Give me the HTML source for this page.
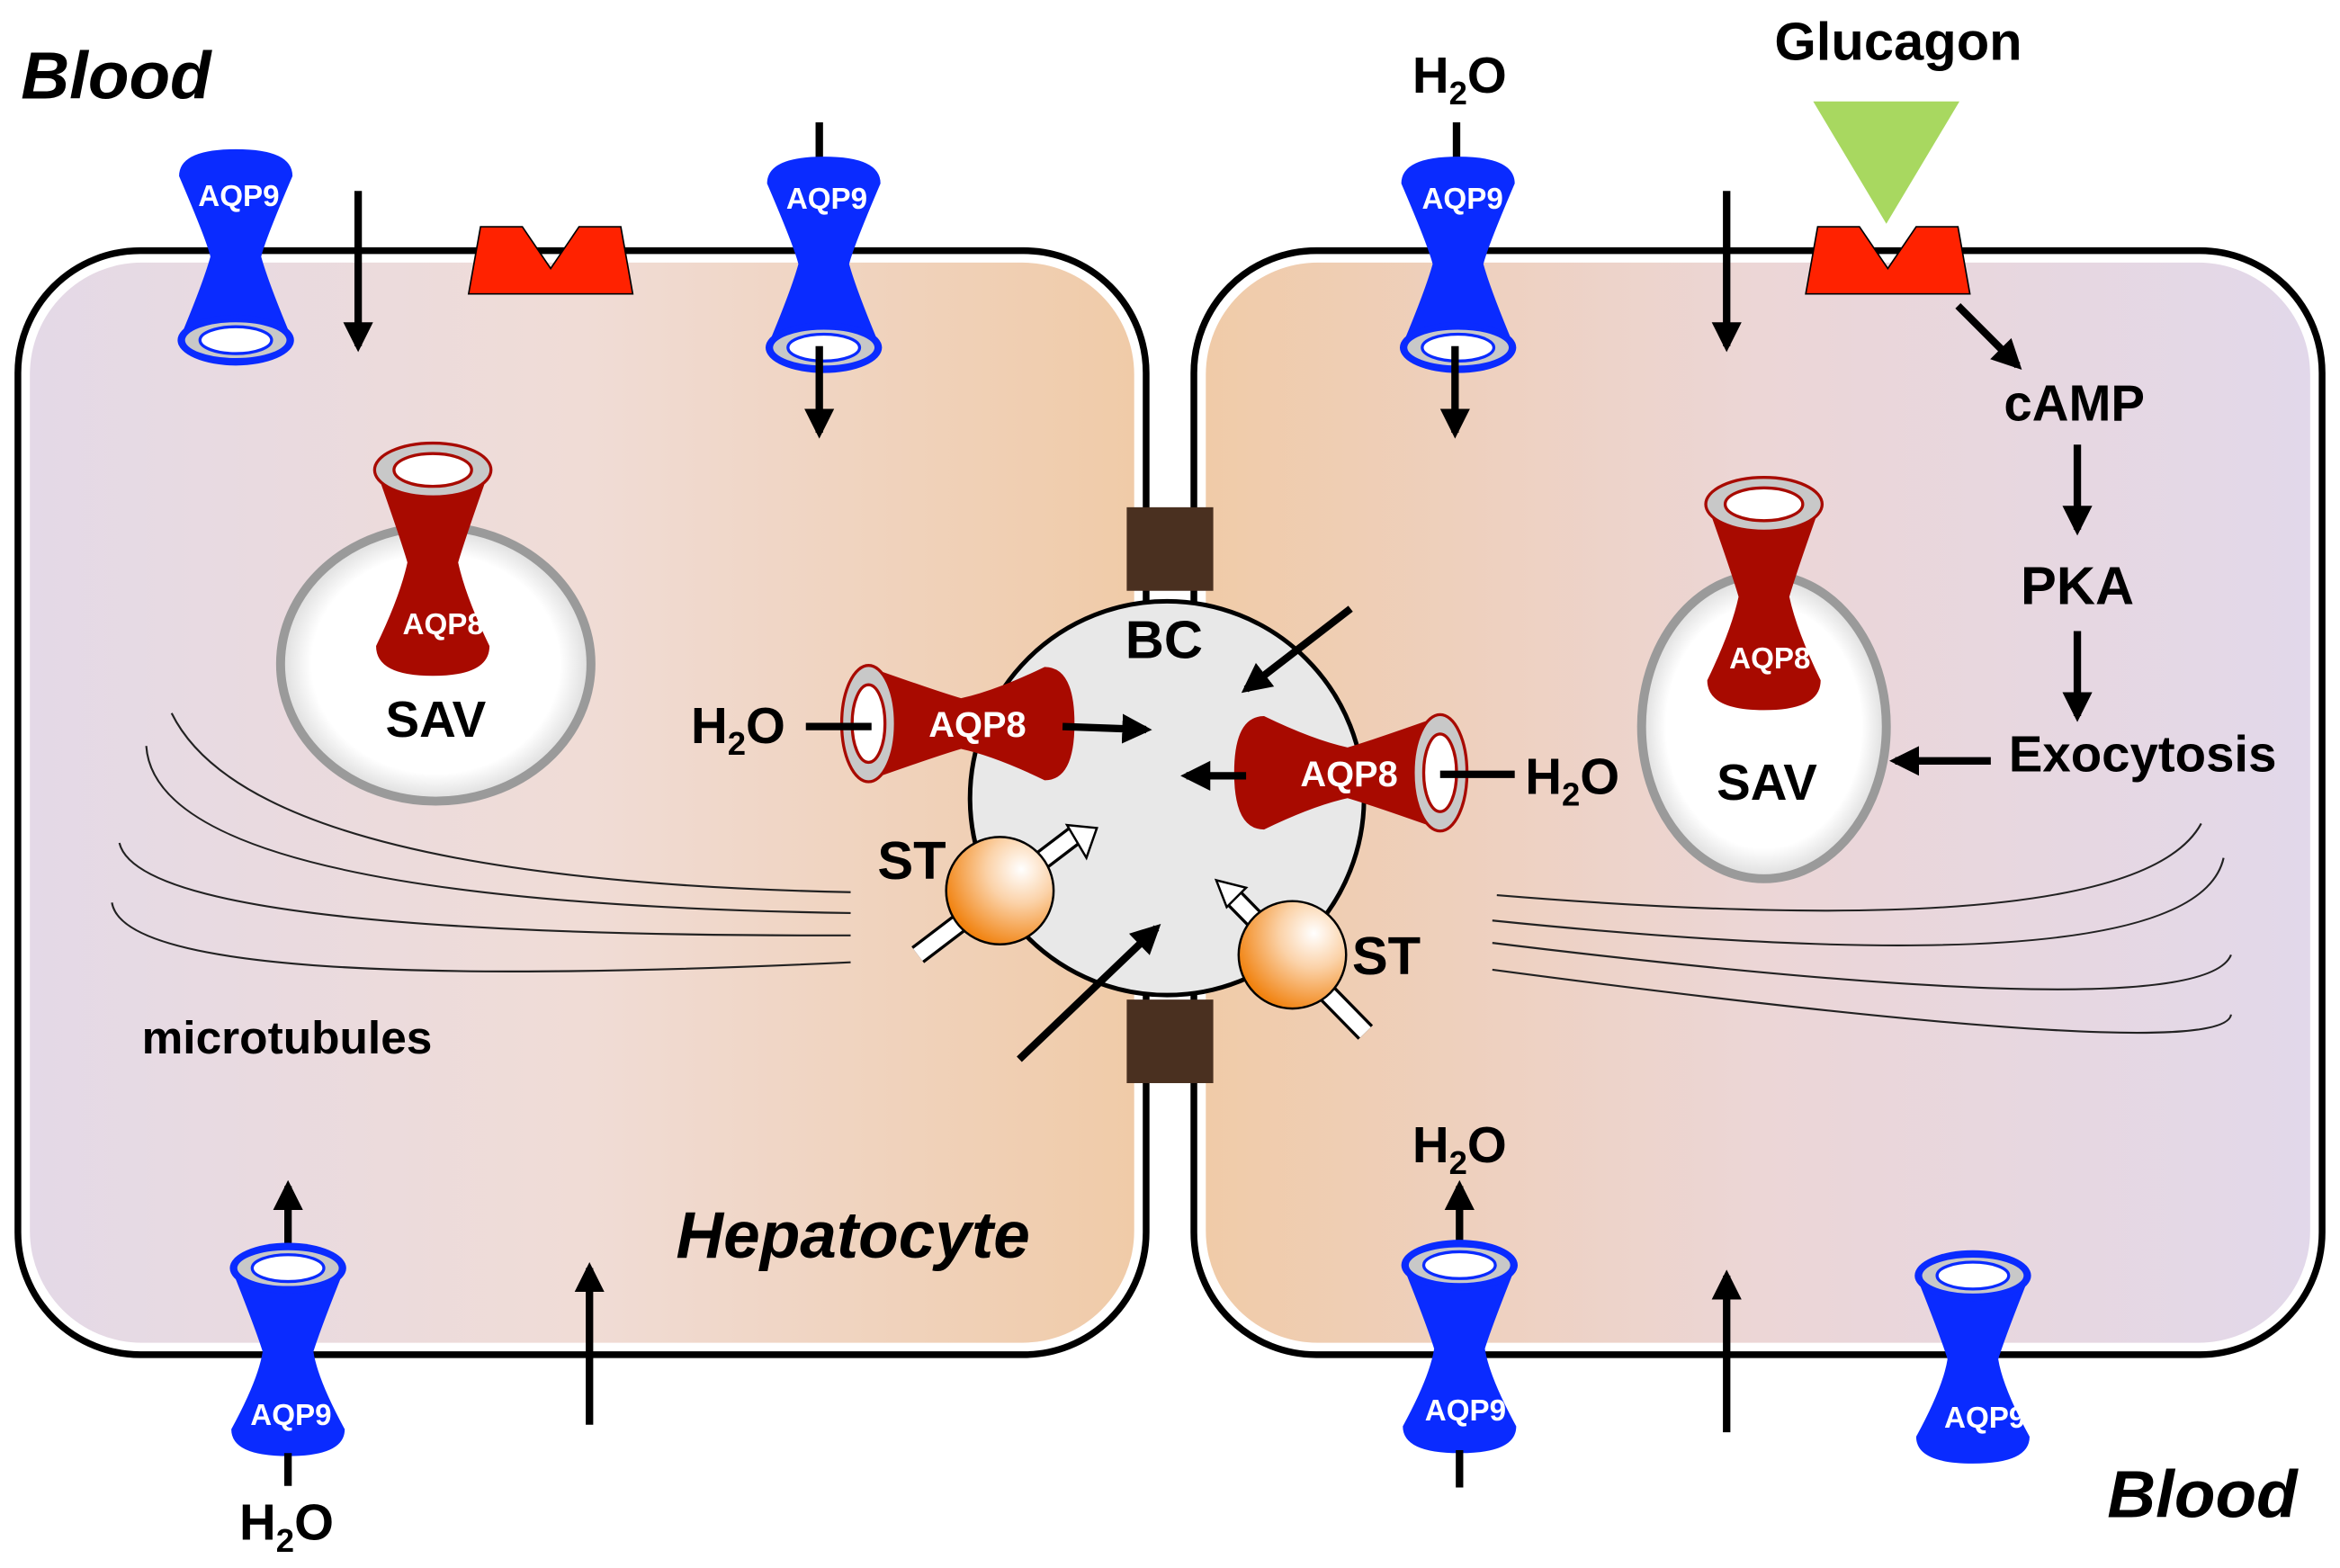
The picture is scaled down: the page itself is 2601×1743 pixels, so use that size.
<!DOCTYPE html>
<html><head><meta charset="utf-8"><style>
html,body{margin:0;padding:0;background:#fff;}
svg{display:block;}
text{font-family:"Liberation Sans",sans-serif;font-weight:bold;}
</style></head><body>
<svg width="2601" height="1743" viewBox="0 0 1568 1051" preserveAspectRatio="none" xmlns="http://www.w3.org/2000/svg">
<defs>
<linearGradient id="gl" x1="0" x2="1" y1="0" y2="0"><stop offset="0" stop-color="#e4d9e7"/><stop offset="0.5" stop-color="#f0dcd6"/><stop offset="1" stop-color="#f0cba8"/></linearGradient>
<linearGradient id="gr" x1="0" x2="1" y1="0" y2="0"><stop offset="0" stop-color="#f0cba8"/><stop offset="0.5" stop-color="#ecd6d6"/><stop offset="1" stop-color="#e2d8ea"/></linearGradient>
<radialGradient id="orb" cx="0.7" cy="0.3" r="0.8"><stop offset="0" stop-color="#fff"/><stop offset="0.4" stop-color="#fbd2a8"/><stop offset="1" stop-color="#f07a00"/></radialGradient>
<radialGradient id="sav" cx="0.5" cy="0.5" r="0.5"><stop offset="0.8" stop-color="#fff"/><stop offset="1" stop-color="#dcdcdc"/></radialGradient>
<marker id="ah" viewBox="0 0 10 10" refX="8" refY="5" markerWidth="4" markerHeight="4.5" orient="auto"><path d="M0,0 L10,5 L0,10 Z" fill="#000"/></marker>
<g id="aq9d">
 <path d="M-38,18 Q-38,0 0,0 Q38,0 38,18 Q20,60 17,72 Q22,90 38,128 L-38,128 Q-22,90 -17,72 Q-20,60 -38,18 Z" fill="#0a2bff"/>
 <ellipse cx="0" cy="128" rx="39" ry="17" fill="#0a2bff"/>
 <ellipse cx="0" cy="128" rx="35" ry="13" fill="#c8c8c8" stroke="#0a2bff" stroke-width="2"/>
 <ellipse cx="0" cy="128" rx="24" ry="9" fill="#fff" stroke="#0a2bff" stroke-width="2"/>
</g>
<g id="aq9u">
 <path d="M-38,0 L38,0 Q22,40 17,56 Q20,75 38,108 Q38,126 0,126 Q-38,126 -38,108 Q-20,75 -17,56 Q-22,40 -38,0 Z" fill="#0a2bff"/>
 <ellipse cx="0" cy="0" rx="39" ry="17" fill="#0a2bff"/>
 <ellipse cx="0" cy="0" rx="35" ry="13" fill="#c8c8c8" stroke="#0a2bff" stroke-width="2"/>
 <ellipse cx="0" cy="0" rx="24" ry="9" fill="#fff" stroke="#0a2bff" stroke-width="2"/>
</g>
<g id="aq8">
 <path d="M-38,0 L38,0 Q22,45 17,62 Q22,85 38,118 Q38,138 0,138 Q-38,138 -38,118 Q-22,85 -17,62 Q-22,45 -38,0 Z" fill="#a80a00"/>
 <ellipse cx="0" cy="0" rx="39" ry="18" fill="#c8c8c8" stroke="#a80a00" stroke-width="2"/>
 <ellipse cx="0" cy="0" rx="26" ry="11" fill="#fff" stroke="#a80a00" stroke-width="2"/>
</g>
</defs>

<rect x="12" y="168" width="756" height="740" rx="82" fill="#fff" stroke="#000" stroke-width="4.5"/>
<rect x="20" y="176" width="740" height="724" rx="75" fill="url(#gl)"/>
<rect x="800" y="168" width="756" height="740" rx="82" fill="#fff" stroke="#000" stroke-width="4.5"/>
<rect x="808" y="176" width="740" height="724" rx="75" fill="url(#gr)"/>

<rect x="755" y="340" width="58" height="56" fill="#4a3020"/>
<rect x="755" y="670" width="58" height="56" fill="#4a3020"/>

<g fill="none" stroke="#222" stroke-width="1.3">
<path d="M115,478 Q170,590 570,598"/>
<path d="M98,500 Q105,605 570,612"/>
<path d="M80,565 Q95,628 570,627"/>
<path d="M75,605 Q85,668 570,645"/>
<path d="M1475,552 Q1430,635 1003,600"/>
<path d="M1490,575 Q1470,665 1000,617"/>
<path d="M1495,640 Q1475,690 1000,632"/>
<path d="M1495,680 Q1490,715 1000,650"/>
</g>

<circle cx="782" cy="535" r="132" fill="#e8e8e8" stroke="#000" stroke-width="3"/>
<text x="780" y="441" font-size="36" text-anchor="middle">BC</text>

<ellipse cx="292" cy="445" rx="104" ry="92" fill="url(#sav)" stroke="#9a9a9a" stroke-width="6"/>
<use href="#aq8" transform="translate(290,315)"/>
<text x="297" y="425" font-size="20" fill="#fff" text-anchor="middle">AQP8</text>
<text x="292" y="494" font-size="34" text-anchor="middle">SAV</text>
<ellipse cx="1182" cy="487" rx="82" ry="102" fill="url(#sav)" stroke="#9a9a9a" stroke-width="6"/>
<use href="#aq8" transform="translate(1182,338)"/>
<text x="1186" y="448" font-size="20" fill="#fff" text-anchor="middle">AQP8</text>
<text x="1184" y="536" font-size="34" text-anchor="middle">SAV</text>

<use href="#aq8" transform="translate(582,485) rotate(-90)"/>
<text x="655" y="494" font-size="24" fill="#fff" text-anchor="middle">AQP8</text>
<use href="#aq8" transform="translate(965,518) rotate(90)"/>
<text x="904" y="527" font-size="24" fill="#fff" text-anchor="middle">AQP8</text>

<line x1="540" y1="487" x2="584" y2="487" stroke="#000" stroke-width="5"/>
<text x="463" y="498" font-size="34">H<tspan font-size="22" dy="8">2</tspan><tspan dy="-8">O</tspan></text>
<line x1="965" y1="519" x2="1015" y2="519" stroke="#000" stroke-width="5"/>
<text x="1022" y="532" font-size="34">H<tspan font-size="22" dy="8">2</tspan><tspan dy="-8">O</tspan></text>

<g stroke="#000" stroke-width="5" marker-end="url(#ah)">
<line x1="712" y1="487" x2="768" y2="489"/>
<line x1="835" y1="520" x2="795" y2="520"/>
<line x1="905" y1="408" x2="835" y2="462"/>
<line x1="683" y1="710" x2="775" y2="622"/>
</g>

<g>
<path d="M615,640 L720,560" stroke="#000" stroke-width="14"/>
<path d="M615,640 L720,560" stroke="#fff" stroke-width="10"/>
<path d="M715,553 L735,555 L728,575 Z" fill="#fff" stroke="#000" stroke-width="1.5"/>
<circle cx="670" cy="597" r="36" fill="url(#orb)" stroke="#000" stroke-width="1.5"/>
<text x="588" y="589" font-size="36">ST</text>
</g>
<g>
<path d="M915,692 L825,600" stroke="#000" stroke-width="14"/>
<path d="M915,692 L825,600" stroke="#fff" stroke-width="10"/>
<path d="M815,590 L835,595 L822,608 Z" fill="#fff" stroke="#000" stroke-width="1.5"/>
<circle cx="866" cy="640" r="36" fill="url(#orb)" stroke="#000" stroke-width="1.5"/>
<text x="906" y="653" font-size="36">ST</text>
</g>

<path d="M322,152 L350,152 L369,180 L388,152 L416,152 L424,197 L314,197 Z" fill="#ff2200" stroke="#000" stroke-width="1"/>
<path d="M1218,152 L1246,152 L1265,180 L1284,152 L1312,152 L1320,197 L1210,197 Z" fill="#ff2200" stroke="#000" stroke-width="1"/>
<path d="M1215,68 L1313,68 L1264,150 Z" fill="#a8d860"/>
<text x="1272" y="40" font-size="36" text-anchor="middle">Glucagon</text>

<use href="#aq9d" transform="translate(158,100)"/>
<text x="160" y="138" font-size="20" fill="#fff" text-anchor="middle">AQP9</text>
<line x1="549" y1="82" x2="549" y2="106" stroke="#000" stroke-width="5"/>
<use href="#aq9d" transform="translate(552,105)"/>
<text x="554" y="140" font-size="20" fill="#fff" text-anchor="middle">AQP9</text>
<line x1="976" y1="82" x2="976" y2="106" stroke="#000" stroke-width="5"/>
<use href="#aq9d" transform="translate(977,105)"/>
<text x="980" y="140" font-size="20" fill="#fff" text-anchor="middle">AQP9</text>
<text x="978" y="62" font-size="34" text-anchor="middle">H<tspan font-size="22" dy="8">2</tspan><tspan dy="-8">O</tspan></text>

<g stroke="#000" stroke-width="5" marker-end="url(#ah)">
<line x1="240" y1="128" x2="240" y2="232"/>
<line x1="1157" y1="128" x2="1157" y2="232"/>
<line x1="549" y1="232" x2="549" y2="290"/>
<line x1="975" y1="232" x2="975" y2="290"/>
<line x1="1312" y1="205" x2="1352" y2="245"/>
<line x1="1392" y1="298" x2="1392" y2="355"/>
<line x1="1392" y1="423" x2="1392" y2="480"/>
<line x1="1334" y1="510" x2="1270" y2="510"/>
<line x1="193" y1="850" x2="193" y2="795"/>
<line x1="978" y1="850" x2="978" y2="795"/>
<line x1="395" y1="955" x2="395" y2="850"/>
<line x1="1157" y1="960" x2="1157" y2="855"/>
</g>

<use href="#aq9u" transform="translate(193,850)"/>
<text x="195" y="955" font-size="20" fill="#fff" text-anchor="middle">AQP9</text>
<line x1="193" y1="974" x2="193" y2="996" stroke="#000" stroke-width="5"/>
<text x="192" y="1032" font-size="34" text-anchor="middle">H<tspan font-size="22" dy="8">2</tspan><tspan dy="-8">O</tspan></text>
<use href="#aq9u" transform="translate(978,848)"/>
<text x="982" y="952" font-size="20" fill="#fff" text-anchor="middle">AQP9</text>
<line x1="978" y1="972" x2="978" y2="997" stroke="#000" stroke-width="5"/>
<text x="978" y="779" font-size="34" text-anchor="middle">H<tspan font-size="22" dy="8">2</tspan><tspan dy="-8">O</tspan></text>
<use href="#aq9u" transform="translate(1322,855)"/>
<text x="1330" y="957" font-size="20" fill="#fff" text-anchor="middle">AQP9</text>

<text x="14" y="66" font-size="45" font-style="italic">Blood</text>
<text x="1412" y="1017" font-size="45" font-style="italic">Blood</text>
<text x="453" y="843" font-size="44" font-style="italic">Hepatocyte</text>
<text x="95" y="706" font-size="31">microtubules</text>
<text x="1390" y="282" font-size="34" text-anchor="middle">cAMP</text>
<text x="1392" y="405" font-size="36" text-anchor="middle">PKA</text>
<text x="1346" y="517" font-size="34">Exocytosis</text>
</svg>
</body></html>
